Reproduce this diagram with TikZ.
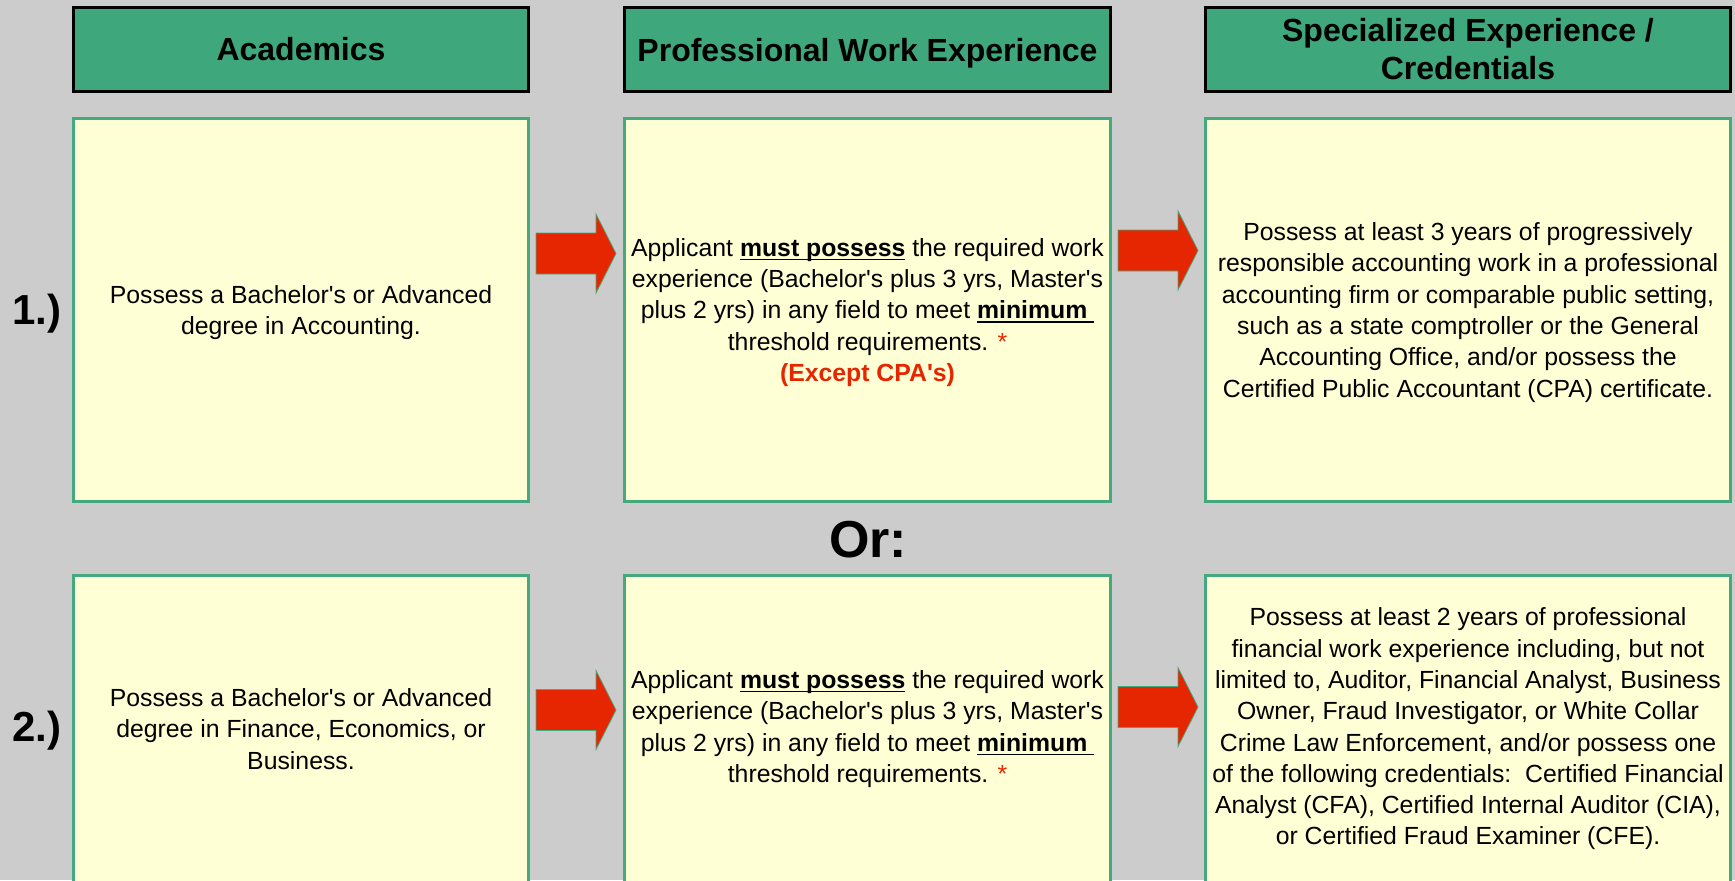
\documentclass[tikz,border=0pt]{standalone}
\usepackage{fontspec}
\setmainfont{Liberation Sans}[Ligatures=TeXOff]
\usepackage{xcolor}
\definecolor{bggray}{HTML}{CCCCCC}
\definecolor{headgreen}{HTML}{3EA87C}
\definecolor{cellgreen}{HTML}{45A97E}
\definecolor{cellyellow}{HTML}{FFFFD5}
\definecolor{arrowred}{HTML}{E52600}
\newsavebox{\ulbox}
\newcommand{\ulword}[1]{\sbox{\ulbox}{#1}\rlap{\rule[-2pt]{\wd\ulbox}{0.7pt}}\usebox{\ulbox}}
\newcommand{\firststrut}{\rule{0pt}{11.4pt}}

\begin{document}
\begin{tikzpicture}[x=0.5pt,y=-0.5pt,
	headbox/.style={draw=black,line width=1.6pt,fill=headgreen,align=center,
		font=\fontsize{16}{19}\selectfont\bfseries,minimum height=42pt,inner sep=1pt},
	cellbox/.style={draw=cellgreen,line width=1.3pt,fill=cellyellow,align=center,
		font=\fontsize{12.4}{15.65}\selectfont,inner sep=1pt},
	rowlabel/.style={font=\fontsize{21}{24}\selectfont\bfseries},
	redarrow/.style={fill=arrowred,draw=cellgreen,line width=0.4pt}]
		\useasboundingbox (0,0) rectangle (1735,880) ;
		\clip (0,0) rectangle (1735,880) ;
		\fill[bggray] (0,0) rectangle (1735,880) ;
\par
% column headers
		\node[headbox, minimum width=227.5pt] (acad) at (301,49.5) {Academics} ;
		\node[headbox, minimum width=243pt, text depth=0pt] (work) at (867.5,49.5) {Professional Work Experience} ;
		\node[headbox, minimum width=262.5pt] (spec) at (1468,49.5) {Specialized Experience /\\Credentials} ;
\par
% first path
		\node[rowlabel] (one) at (37,314) {1.)} ;
		\node[cellbox, minimum width=227.5pt, minimum height=191.5pt] (acadA) at (301,310)
			{\firststrut Possess a Bachelor's or Advanced\\degree in Accounting.} ;
		\node[cellbox, minimum width=243pt, minimum height=191.5pt] (workA) at (867.5,310)
			{\firststrut Applicant \ulword{\textbf{must possess}} the required work\\
			experience (Bachelor's plus 3 yrs, Master's\\
			plus 2 yrs) in any field to meet \ulword{\textbf{minimum}\ }\\
			threshold requirements. {\color{arrowred}*}\\
			{\color{arrowred}\bfseries (Except CPA's)}} ;
		\node[cellbox, minimum width=262.5pt, minimum height=191.5pt] (specA) at (1468,310)
			{\firststrut Possess at least 3 years of progressively\\
			responsible accounting work in a professional\\
			accounting firm or comparable public setting,\\
			such as a state comptroller or the General\\
			Accounting Office, and/or possess the\\
			Certified Public Accountant (CPA) certificate.} ;
\par
\draw[redarrow] (536,233) -- ++(60,0) -- ++(0,-19) -- ++(20,39.5) -- ++(-20,39.5) -- ++(0,-19) -- ++(-60,0) -- cycle ;
		\draw[redarrow] (1118,230) -- ++(60,0) -- ++(0,-19) -- ++(20,39.5) -- ++(-20,39.5) -- ++(0,-19) -- ++(-60,0) -- cycle ;
\par
\node[font=\fontsize{26}{30}\selectfont\bfseries] (or) at (868,540) {Or:} ;
\par
% second path
		\node[rowlabel] (two) at (37,731) {2.)} ;
		\node[cellbox, minimum width=227.5pt, minimum height=153.5pt] (acadB) at (301,729)
			{Possess a Bachelor's or Advanced\\degree in Finance, Economics, or\\Business.} ;
		\node[cellbox, minimum width=243pt, minimum height=153.5pt] (workB) at (867.5,729)
			{Applicant \ulword{\textbf{must possess}} the required work\\
			experience (Bachelor's plus 3 yrs, Master's\\
			plus 2 yrs) in any field to meet \ulword{\textbf{minimum}\ }\\
			threshold requirements. {\color{arrowred}*}} ;
		\node[cellbox, minimum width=262.5pt, minimum height=153.5pt] (specB) at (1468,729)
			{Possess at least 2 years of professional\\
			financial work experience including, but not\\
			limited to, Auditor, Financial Analyst, Business\\
			Owner, Fraud Investigator, or White Collar\\
			Crime Law Enforcement, and/or possess one\\
			of the following credentials:\ \ Certified Financial\\
			Analyst (CFA), Certified Internal Auditor (CIA),\\
			or Certified Fraud Examiner (CFE).} ;
\par
\draw[redarrow] (536,689.5) -- ++(60,0) -- ++(0,-19) -- ++(20,39.5) -- ++(-20,39.5) -- ++(0,-19) -- ++(-60,0) -- cycle ;
		\draw[redarrow] (1118,686.5) -- ++(60,0) -- ++(0,-19) -- ++(20,39.5) -- ++(-20,39.5) -- ++(0,-19) -- ++(-60,0) -- cycle ;
	\end{tikzpicture}
\end{document}
